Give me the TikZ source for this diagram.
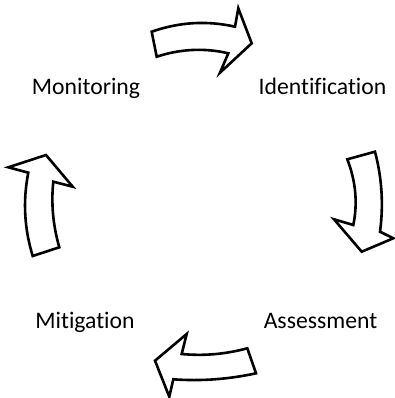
\documentclass[tikz,border=0pt]{standalone}
\usepackage{fontspec}
\setmainfont[Ligatures={NoCommon}]{Carlito}
\begin{document}
\begin{tikzpicture}[x=1pt,y=-1pt,
  lbl/.style={anchor=base,inner sep=0pt,font=\fontsize{23.7}{28}\selectfont},
  blockarrow/.style={draw=black,fill=white,line width=2.6pt,line join=miter,miter limit=10}]
\useasboundingbox (0,0) rectangle (394,398);
% labels
\node[lbl] (mon) at (86,95) {Monitoring};
\node[lbl] (ide) at (322.5,95) {Identification};
\node[lbl] (mit) at (85,328.3) {Mitigation};
\node[lbl] (ass) at (320.5,328.3) {Assessment};
% top arrow
\draw[blockarrow] (151.7,31.7) -- (156.7,56.7)
  .. controls (180.6,48.9) and (204.4,47.7) .. (228.3,53.3)
  -- (220,72.7) -- (251.7,43.3) -- (238.3,8.3) -- (235,26.7)
  .. controls (207,20.4) and (179.5,22) .. cycle;
% right arrow
\draw[blockarrow] (347.3,159.3) -- (375,151.7)
  .. controls (382,178.4) and (383.6,205) .. (380,231.7)
  -- (393.3,238.3) -- (361.7,251.7) -- (334,219.3) -- (353.3,225)
  .. controls (357.8,203.1) and (355.8,181.2) .. cycle;
% bottom arrow
\draw[blockarrow] (247.3,348.3) -- (256,373.3)
  .. controls (228.4,379.3) and (200.9,381.3) .. (173.3,379.3)
  -- (169.3,396.7) -- (155,360.7) -- (186.7,334) -- (181.7,354)
  .. controls (203.6,356.1) and (225.4,354.2) .. cycle;
% left arrow
\draw[blockarrow] (32.7,256) -- (59.3,247.3)
  .. controls (53,225.4) and (51,203.6) .. (53.3,181.7)
  -- (72.7,186.7) -- (46,155) -- (8.3,167.3) -- (28.3,172.7)
  .. controls (22.8,200.5) and (24.2,228.2) .. cycle;
\end{tikzpicture}
\end{document}
